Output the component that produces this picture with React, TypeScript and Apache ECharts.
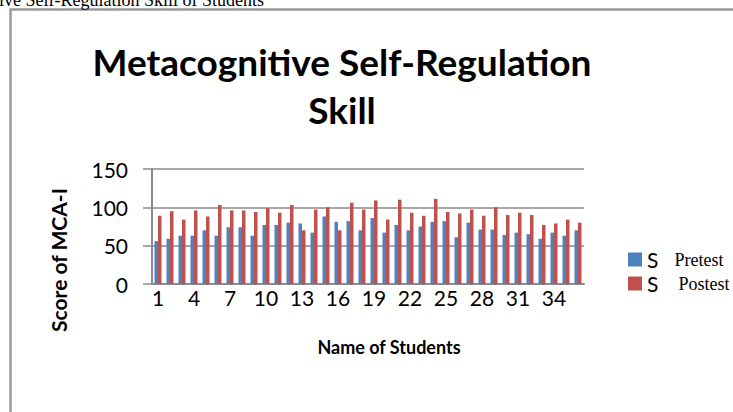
import React, { useEffect, useRef } from "react";
import * as echarts from "echarts";

const students: string[] = Array.from({ length: 36 }, (_, i) => String(i + 1));
const pretest: number[] = [56, 59, 63, 63, 70, 63, 74, 74, 63, 77, 77, 80, 79, 67, 88, 81, 82, 70, 86, 67, 77, 70, 75, 81, 82, 61, 80, 71, 71, 64, 67, 65, 59, 67, 63, 70];
const posttest: number[] = [89, 95, 84, 96, 88, 103, 96, 96, 94, 99, 93, 103, 70, 97, 100, 70, 106, 97, 109, 84, 110, 93, 89, 111, 94, 92, 97, 89, 100, 90, 93, 90, 77, 79, 84, 80];
const seriesNames: string[] = ["Pretest", "Postest"];
const titleText = "Metacognitive Self-Regulation\nSkill";
const docText = "ive Self-Regulation Skill of Students";
const yTitle = "Score of MCA-I";
const xTitle = "Name of Students";

export default function App() {
  const ref = useRef<HTMLDivElement>(null);
  useEffect(() => {
    document.body.style.margin = "0";
    const chart = echarts.init(ref.current!, null, { renderer: "svg" });
    const gridColor = "#8a8a8a";
    chart.setOption({
      animation: false,
      backgroundColor: "#ffffff",
      title: {
        text: titleText,
        left: 337,
        top: 32,
        textAlign: "center",
        textStyle: {
          fontFamily: "Lato",
          fontWeight: "bold",
          fontSize: 37,
          lineHeight: 48,
          color: "#000",
        },
      },
      graphic: [
        {
          type: "polyline",
          shape: { points: [[10.5, 412], [10.5, 9.5], [733, 9.5]] },
          style: { stroke: "#9a9a9a", lineWidth: 2.5, fill: "none" },
          silent: true,
        },
        {
          type: "text",
          x: -1,
          y: 9,
          style: {
            text: docText,
            fontFamily: "Liberation Serif",
            fontSize: 18,
            fill: "#000",
            verticalAlign: "bottom",
          },
        },
        {
          type: "text",
          x: 58,
          y: 260,
          rotation: Math.PI / 2,
          style: {
            text: yTitle,
            fontFamily: "Lato",
            fontWeight: "bold",
            fontSize: 21,
            fill: "#000",
            align: "center",
            verticalAlign: "middle",
          },
        },
        {
          type: "text",
          x: 389,
          y: 347,
          style: {
            text: xTitle,
            fontFamily: "Lato",
            fontWeight: "bold",
            fontSize: 18,
            fill: "#000",
            align: "center",
            verticalAlign: "middle",
          },
        },
      ],
      legend: {
        orient: "vertical",
        left: 623,
        top: 244,
        itemWidth: 14,
        itemHeight: 14,
        itemGap: 3,
        icon: "rect",
        data: seriesNames,
        formatter: (name: string) =>
          name === "Pretest" ? `{s|S}{t|Pretest}` : `{s|S}{u|Postest}`,
        textStyle: {
          rich: {
            s: { fontFamily: "Lato", fontSize: 21, color: "#000", lineHeight: 20 },
            t: { fontFamily: "Liberation Serif", fontSize: 18, color: "#000", padding: [0, 0, 0, 16], lineHeight: 20 },
            u: { fontFamily: "Liberation Serif", fontSize: 18, color: "#000", padding: [0, 0, 0, 20], lineHeight: 20 },
          },
        },
      },
      grid: { left: 152, top: 169, width: 432, height: 115 },
      xAxis: {
        type: "category",
        data: students,
        axisLine: { lineStyle: { color: gridColor, width: 2 } },
        axisTick: { show: false },
        axisLabel: { interval: 2, margin: 3, fontFamily: "Lato", fontSize: 21, color: "#000" },
      },
      yAxis: {
        type: "value",
        min: 0,
        max: 150,
        interval: 50,
        axisLine: { show: true, lineStyle: { color: gridColor, width: 2 } },
        axisTick: { show: true, inside: false, length: 9, lineStyle: { color: gridColor, width: 1.5 } },
        axisLabel: { margin: 24, fontFamily: "Lato", fontSize: 21, color: "#000" },
        splitLine: { lineStyle: { color: gridColor, width: 1.5 } },
      },
      series: [
        {
          name: seriesNames[0],
          type: "bar",
          data: pretest,
          barWidth: 3.5,
          barGap: "0%",
          itemStyle: { color: "#4F81BD" },
        },
        {
          name: seriesNames[1],
          type: "bar",
          data: posttest,
          barWidth: 3.5,
          itemStyle: { color: "#C0504D" },
        },
      ],
    });
    return () => chart.dispose();
  }, []);
  return <div ref={ref} style={{ width: 733, height: 412 }} />;
}
